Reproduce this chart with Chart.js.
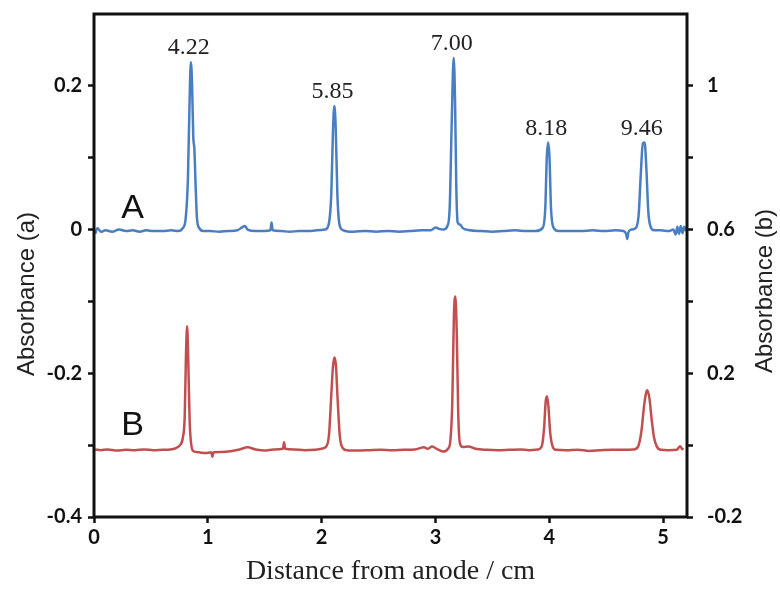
<!DOCTYPE html>
<html>
<head>
<meta charset="utf-8">
<script src="https://cdn.jsdelivr.net/npm/chart.js@4.4.1/dist/chart.umd.min.js"></script>
<style>
  html, body { margin: 0; padding: 0; background: #fff; }
</style>
</head>
<body>
<canvas id="chart" width="780" height="590"></canvas>
<script>
/* ================= DATA ================= */
// trace A (left axis, Absorbance (a))
const distA = [0.01, 0.03, 0.06, 0.1, 0.16, 0.22, 0.28, 0.34, 0.4, 0.46, 0.52, 0.6, 0.68, 0.74, 0.78, 0.805, 0.825, 0.84, 0.851, 0.862,
  0.872, 0.882, 0.893, 0.905, 0.925, 0.96, 1.02, 1.1, 1.18, 1.26, 1.3, 1.325, 1.35, 1.42, 1.5, 1.55, 1.56, 1.57, 1.64, 1.72,
  1.8, 1.88, 1.96, 2.03, 2.06, 2.085, 2.1, 2.112, 2.124, 2.138, 2.158, 2.19, 2.28, 2.38, 2.48, 2.58, 2.68, 2.78, 2.88, 2.96,
  3.0, 3.03, 3.07, 3.105, 3.125, 3.143, 3.16, 3.172, 3.183, 3.195, 3.215, 3.24, 3.3, 3.4, 3.5, 3.6, 3.7, 3.8, 3.88, 3.94,
  3.965, 3.978, 3.99, 4.002, 4.015, 4.04, 4.08, 4.18, 4.28, 4.38, 4.48, 4.58, 4.65, 4.675, 4.685, 4.695, 4.72, 4.76, 4.785, 4.805,
  4.822, 4.838, 4.853, 4.87, 4.89, 4.92, 4.98, 5.05, 5.09, 5.11, 5.125, 5.14, 5.155, 5.17, 5.185, 5.2];
const absA = [-0.006, 0.002, -0.003, -0.001, -0.003, 0.0, -0.002, -0.001, -0.003, -0.001, -0.002, -0.002, -0.001, -0.002, 0.002, 0.015, 0.07, 0.18, 0.233, 0.2,
  0.13, 0.112, 0.06, 0.015, 0.002, -0.002, -0.002, -0.003, -0.002, -0.001, 0.003, 0.005, 0.0, -0.002, -0.002, -0.001, 0.01, -0.001, -0.002, -0.003,
  -0.002, -0.002, -0.001, 0.0, 0.006, 0.05, 0.14, 0.172, 0.14, 0.05, 0.006, -0.001, -0.003, -0.002, -0.003, -0.002, -0.003, -0.002, -0.001, -0.001,
  0.003, 0.001, 0.0, 0.005, 0.03, 0.15, 0.239, 0.18, 0.06, 0.01, 0.007, 0.002, -0.001, -0.002, -0.003, -0.002, -0.001, -0.002, -0.002, 0.002,
  0.03, 0.1, 0.121, 0.1, 0.03, 0.002, -0.002, -0.002, -0.002, -0.001, -0.002, -0.001, -0.002, -0.006, -0.013, -0.004, 0.0, 0.002, 0.02, 0.08,
  0.12, 0.121, 0.085, 0.025, 0.004, -0.001, -0.001, -0.002, 0.0, -0.007, 0.004, -0.006, 0.005, -0.005, 0.004, -0.002];

// trace B (right axis, Absorbance (b))
const distB = [0.01, 0.06, 0.12, 0.2, 0.28, 0.36, 0.44, 0.52, 0.6, 0.67, 0.72, 0.755, 0.78, 0.797, 0.808, 0.818, 0.828, 0.84, 0.855, 0.875,
  0.92, 0.98, 1.03, 1.04, 1.05, 1.12, 1.2, 1.28, 1.35, 1.42, 1.5, 1.58, 1.66, 1.67, 1.68, 1.76, 1.85, 1.94, 2.0, 2.04,
  2.065, 2.085, 2.1, 2.113, 2.126, 2.14, 2.16, 2.185, 2.22, 2.32, 2.42, 2.52, 2.62, 2.72, 2.82, 2.9, 2.93, 2.97, 3.02, 3.07,
  3.11, 3.13, 3.148, 3.162, 3.175, 3.188, 3.2, 3.215, 3.24, 3.29, 3.35, 3.45, 3.55, 3.65, 3.75, 3.82, 3.9, 3.935, 3.955, 3.968,
  3.979, 3.992, 4.008, 4.03, 4.06, 4.15, 4.25, 4.35, 4.45, 4.55, 4.65, 4.74, 4.78, 4.81, 4.835, 4.86, 4.88, 4.9, 4.92, 4.945,
  4.98, 5.05, 5.12, 5.15, 5.165, 5.18];
const absB = [-0.012, -0.014, -0.012, -0.015, -0.013, -0.014, -0.012, -0.014, -0.013, -0.012, -0.008, 0.0, 0.02, 0.08, 0.25, 0.331, 0.24, 0.07, 0.0, -0.017,
  -0.02, -0.022, -0.02, -0.033, -0.02, -0.019, -0.017, -0.012, -0.006, -0.012, -0.015, -0.012, -0.01, 0.008, -0.01, -0.012, -0.014, -0.013, -0.01, -0.004,
  0.03, 0.14, 0.22, 0.244, 0.22, 0.13, 0.025, -0.008, -0.014, -0.015, -0.014, -0.013, -0.014, -0.013, -0.012, -0.006, -0.01, -0.004, -0.012, -0.018,
  -0.01, 0.01, 0.12, 0.36, 0.414, 0.3, 0.09, 0.005, -0.005, -0.004, -0.01, -0.013, -0.014, -0.013, -0.012, -0.014, -0.012, -0.002, 0.05, 0.12,
  0.136, 0.11, 0.035, -0.004, -0.013, -0.014, -0.013, -0.016, -0.014, -0.013, -0.013, -0.012, -0.004, 0.04, 0.115, 0.153, 0.13, 0.07, 0.022, -0.004,
  -0.013, -0.014, -0.013, -0.003, -0.01, -0.012];

// peak annotations (pI values) over trace A
const peakLabels = ['4.22', '5.85', '7.00', '8.18', '9.46'];
const peakDist = [0.851, 2.112, 3.16, 3.99, 4.83];

// trace names
const traceNames = ['A', 'B'];
const traceNameDist = 0.34;

// tick labels
const xTickLabels = ['0', '1', '2', '3', '4', '5'];
const yLeftLabels = ['-0.4', '', '-0.2', '', '0', '', '0.2', ''];
const yRightLabels = ['-0.2', '', '0.2', '', '0.6', '', '1', ''];

const INK = '#111';
const tickFont = { family: 'Lato', weight: 'bold', size: 20 };

/* ================= OVERLAY (frame, annotations, titles) ================= */
const overlay = {
  id: 'overlay',
  afterDatasetsDraw(chart) {
    const { ctx, chartArea: a, scales } = chart;
    ctx.save();
    ctx.strokeStyle = INK;
    ctx.lineWidth = 3;
    ctx.strokeRect(a.left, a.top, a.right - a.left, a.bottom - a.top);

    // peak labels
    ctx.fillStyle = '#222';
    ctx.font = '24px "Liberation Serif"';
    ctx.textAlign = 'center';
    ctx.textBaseline = 'alphabetic';
    peakLabels.forEach((t, i) => {
      let top = -Infinity;
      distA.forEach((d, j) => {
        if (Math.abs(d - peakDist[i]) < 0.05) top = Math.max(top, absA[j]);
      });
      ctx.fillText(t, scales.x.getPixelForValue(peakDist[i]) - 2, scales.y.getPixelForValue(top) - 8);
    });

    // A / B
    ctx.fillStyle = INK;
    ctx.font = '34px "Liberation Sans"';
    const nx = scales.x.getPixelForValue(traceNameDist);
    ctx.fillText(traceNames[0], nx, scales.y.getPixelForValue(0) - 12);
    ctx.fillText(traceNames[1], nx, scales.y2.getPixelForValue(0) - 10);
    ctx.restore();
  },
  afterDraw(chart) {
    const { ctx } = chart;
    ctx.save();
    ctx.fillStyle = '#222';
    ctx.font = '24px "Liberation Sans"';
    ctx.textAlign = 'center';
    ctx.textBaseline = 'middle';
    ctx.translate(27, 294);
    ctx.rotate(-Math.PI / 2);
    ctx.fillText('Absorbance (a)', 0, 0);
    ctx.restore();

    ctx.save();
    ctx.fillStyle = '#222';
    ctx.font = '24px "Liberation Sans"';
    ctx.textAlign = 'center';
    ctx.textBaseline = 'middle';
    ctx.translate(765, 291);
    ctx.rotate(-Math.PI / 2);
    ctx.fillText('Absorbance (b)', 0, 0);
    ctx.restore();
  }
};

/* ================= CHART ================= */
const chart = new Chart(document.getElementById('chart'), {
  type: 'line',
  data: {
    datasets: [
      {
        label: 'A',
        data: distA.map((d, i) => ({ x: d, y: absA[i] })),
        yAxisID: 'y',
        borderColor: '#4a7ec2',
        borderWidth: 2.5,
        pointRadius: 0,
        cubicInterpolationMode: 'monotone'
      },
      {
        label: 'B',
        data: distB.map((d, i) => ({ x: d, y: absB[i] })),
        yAxisID: 'y2',
        borderColor: '#c24f50',
        borderWidth: 2.5,
        pointRadius: 0,
        cubicInterpolationMode: 'monotone'
      }
    ]
  },
  options: {
    responsive: false,
    animation: false,
    layout: { padding: { top: 14 } },
    plugins: {
      legend: { display: false },
      tooltip: { enabled: false }
    },
    scales: {
      x: {
        type: 'linear',
        min: 0,
        max: 5.21,
        border: { display: false },
        grid: { drawOnChartArea: false, tickLength: 6, tickWidth: 2.5, tickColor: INK },
        ticks: {
          stepSize: 1,
          includeBounds: false,
          autoSkip: false,
          maxRotation: 0,
          padding: 3,
          color: INK,
          font: tickFont,
          callback: (v, i) => xTickLabels[i]
        },
        title: {
          display: true,
          text: 'Distance from anode / cm',
          color: '#222',
          font: { family: 'Liberation Serif', size: 28 },
          padding: { top: 0, bottom: 2 }
        },
        afterFit: s => { s.height = 73; }
      },
      y: {
        position: 'left',
        min: -0.4,
        max: 0.3,
        border: { display: false },
        grid: {
          drawOnChartArea: false,
          tickLength: 6,
          tickWidth: 2.5,
          tickColor: c => (c.tick && c.index === yLeftLabels.length - 1 ? 'rgba(0,0,0,0)' : INK)
        },
        ticks: {
          stepSize: 0.1,
          autoSkip: false,
          padding: 6,
          color: INK,
          font: tickFont,
          callback: (v, i) => yLeftLabels[i]
        },
        afterFit: s => { s.width = 94; s.paddingTop = 0; s.paddingBottom = 0; }
      },
      y2: {
        position: 'right',
        min: -0.2,
        max: 1.2,
        border: { display: false },
        grid: {
          drawOnChartArea: false,
          tickLength: 6,
          tickWidth: 2.5,
          tickColor: c => (c.tick && c.index === yRightLabels.length - 1 ? 'rgba(0,0,0,0)' : INK)
        },
        ticks: {
          stepSize: 0.2,
          autoSkip: false,
          padding: 14,
          color: INK,
          font: tickFont,
          callback: (v, i) => yRightLabels[i]
        },
        afterFit: s => { s.width = 93; s.paddingTop = 0; s.paddingBottom = 0; }
      }
    }
  },
  plugins: [overlay]
});
</script>
</body>
</html>
